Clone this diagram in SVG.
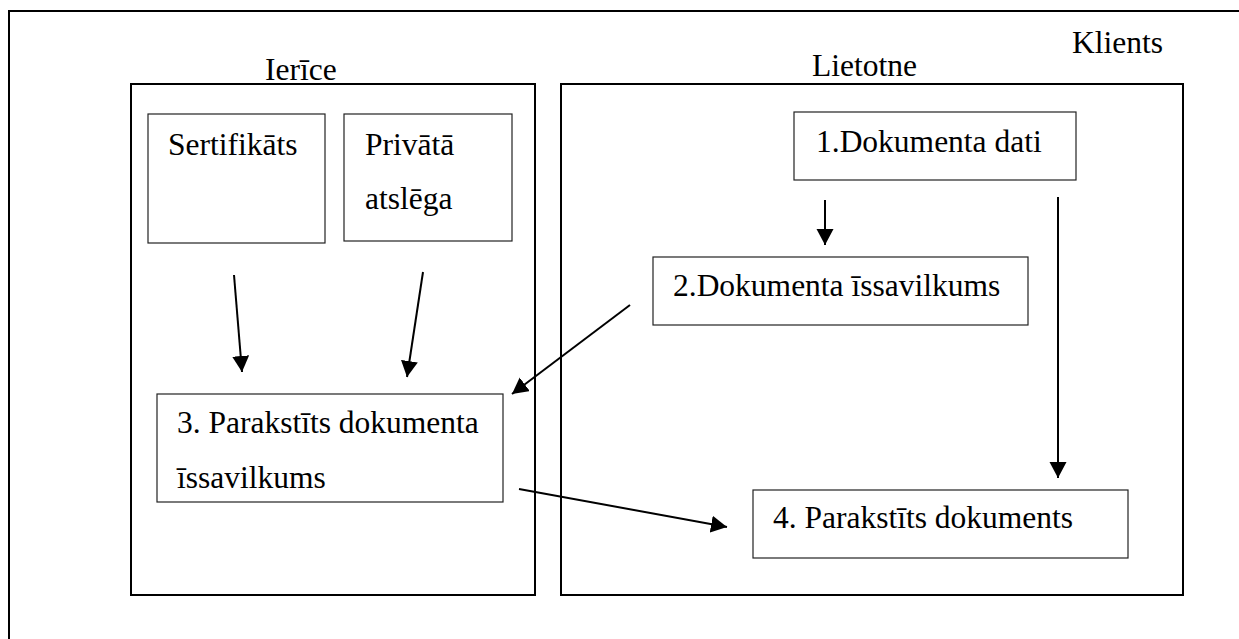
<svg xmlns="http://www.w3.org/2000/svg" width="1239" height="639" viewBox="0 0 1239 639">
  <defs>
    <style>
      .frame { fill: none; stroke: #000; stroke-width: 2; }
      .group { fill: none; stroke: #000; stroke-width: 2; }
      .box { fill: #fff; stroke: #222; stroke-width: 1.2; }
      .lbl { font-family: "Liberation Serif", "Times New Roman", serif; font-size: 31.5px; fill: #000; }
      .conn { fill: none; stroke: #000; stroke-width: 2; marker-end: url(#arrow); }
    </style>
    <marker id="arrow" markerUnits="userSpaceOnUse" markerWidth="18" markerHeight="18" refX="16" refY="8.5" orient="auto">
      <path d="M0,0 L16,8.5 L0,17 Z" fill="#000"/>
    </marker>
  </defs>
  <rect width="1239" height="639" fill="#fff"/>

  <!-- outer client frame, running off the right and bottom edges -->
  <g id="klients">
    <rect class="frame" x="9" y="11" width="1250" height="650"/>
    <text class="lbl" x="1072" y="53">Klients</text>
  </g>

  <g id="ierice">
    <rect class="group" x="131" y="84" width="404" height="511"/>
    <text class="lbl" x="265" y="80">Ierīce</text>
  </g>

  <g id="lietotne">
    <rect class="group" x="561" y="84" width="622" height="511"/>
    <text class="lbl" x="812" y="76">Lietotne</text>
  </g>

  <g id="sertifikats">
    <rect class="box" x="148" y="114" width="177" height="129"/>
    <text class="lbl" x="168" y="155">Sertifikāts</text>
  </g>

  <g id="privata-atslega">
    <rect class="box" x="344" y="114" width="168" height="127"/>
    <text class="lbl" x="365" y="155">Privātā</text>
    <text class="lbl" x="365" y="209">atslēga</text>
  </g>

  <g id="dokumenta-dati">
    <rect class="box" x="794" y="112" width="282" height="68"/>
    <text class="lbl" x="816" y="152">1.Dokumenta dati</text>
  </g>

  <g id="dokumenta-issavilkums">
    <rect class="box" x="653" y="257" width="375" height="68"/>
    <text class="lbl" x="673" y="296">2.Dokumenta īssavilkums</text>
  </g>

  <g id="parakstits-issavilkums">
    <rect class="box" x="157" y="394" width="346" height="108"/>
    <text class="lbl" x="177" y="433">3. Parakstīts dokumenta</text>
    <text class="lbl" x="177" y="488">īssavilkums</text>
  </g>

  <g id="parakstits-dokuments">
    <rect class="box" x="753" y="490" width="375" height="68"/>
    <text class="lbl" x="773" y="528">4. Parakstīts dokuments</text>
  </g>

  <g id="connectors">
    <line class="conn" x1="234" y1="275" x2="242" y2="372"/>
    <line class="conn" x1="423" y1="272" x2="407" y2="377"/>
    <line class="conn" x1="825" y1="200" x2="825" y2="245"/>
    <line class="conn" x1="1058" y1="197" x2="1058" y2="478"/>
    <line class="conn" x1="630" y1="305" x2="512" y2="394"/>
    <line class="conn" x1="519" y1="489" x2="727" y2="527"/>
  </g>
</svg>
